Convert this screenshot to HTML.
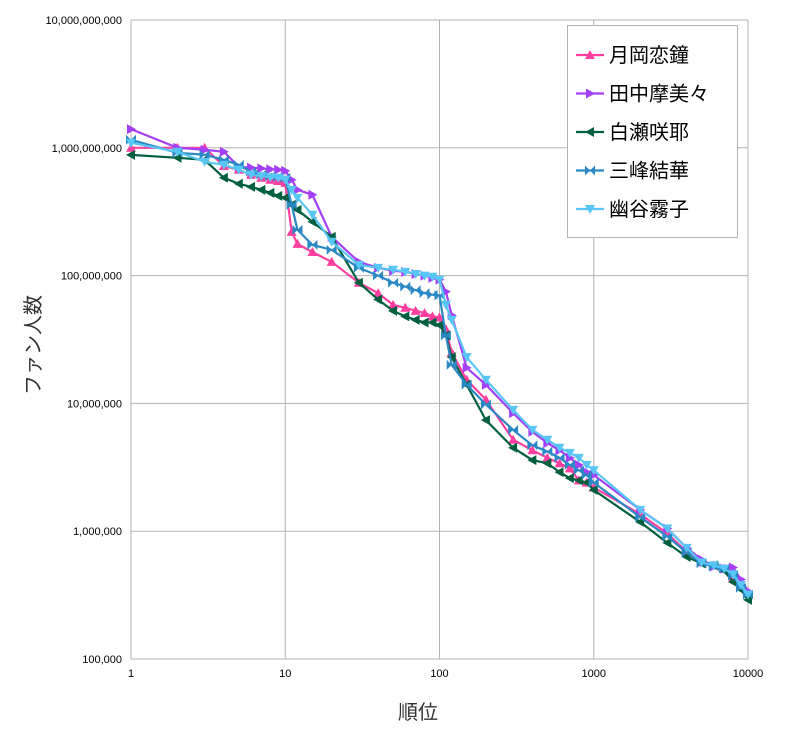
<!DOCTYPE html>
<html><head><meta charset="utf-8"><style>
body{margin:0;background:#fff;font-family:"Liberation Sans","Noto Sans CJK JP",sans-serif}
svg text{font-family:"Liberation Sans","Noto Sans CJK JP",sans-serif}
</style></head><body>
<svg id="chart" width="800" height="738" xmlns="http://www.w3.org/2000/svg">
<g id="grid"></g><g id="series"></g><g id="ticks"></g>
<text x="418" y="719" font-size="20" text-anchor="middle" fill="#333">順位</text>
<text transform="translate(40,345) rotate(-90)" font-size="20" text-anchor="middle" fill="#333">ファン人数</text>
<g id="legend"></g>
</svg>
<script>
const ranks=[1,2,3,4,5,6,7,8,9,10,11,12,15,20,30,40,50,60,70,80,90,100,110,120,150,200,300,400,500,600,700,800,900,1000,2000,3000,4000,5000,6000,7000,8000,9000,10000];
const seriesNames=["月岡恋鐘","田中摩美々","白瀬咲耶","三峰結華","幽谷霧子"];
// values in millions of fans
const tsukioka=[1000,1000,1000,720,673,615,583,562,550,532,220,177,153,128,88,73,59,56,53,51,48,47,38,25,15.3,10.7,5.2,4.3,3.75,3.4,3.1,2.5,2.4,2.2,1.36,0.96,0.69,0.57,0.54,0.51,0.43,0.38,0.33];
const tanaka=[1400,1000,965,931,710,700,690,680,673,660,562,469,429,201,128,115,109,107,103,100,96,93,75,49,19,14,8.4,6.0,4.9,4.3,3.75,3.3,2.9,2.75,1.47,1.05,0.74,0.60,0.53,0.51,0.52,0.42,0.34];
const shirase=[880,835,805,583,523,495,469,444,421,406,358,327,264,201,88,65,53,48,45,43,43,41,34,23,14,7.4,4.5,3.6,3.4,2.9,2.6,2.5,2.4,2.1,1.18,0.81,0.63,0.56,0.54,0.49,0.40,0.35,0.29];
const mitsumine=[1156,914,882,805,736,649,620,600,590,583,358,228,174,159,115,100,88,82,77,73,71,70,34,20,14,9.8,6.2,4.7,4.2,3.75,3.3,3.0,2.75,2.4,1.29,0.91,0.68,0.56,0.53,0.51,0.45,0.36,0.32];
const yuukoku=[1094,931,777,736,673,615,600,590,583,562,469,406,299,184,121,115,111,107,103,100,98,93,59,45,23,15.3,8.9,6.2,5.2,4.5,4.1,3.75,3.3,3.0,1.47,1.05,0.74,0.57,0.54,0.51,0.46,0.38,0.32];
const xTicks=[1,10,100,1000,10000];
const yTicks=["100,000","1,000,000","10,000,000","100,000,000","1,000,000,000","10,000,000,000"];

const NS="http://www.w3.org/2000/svg";
const X0=131,X1=748,Y5=659,Y10=20;
const xs=r=>X0+(X1-X0)*Math.log10(r)/4;
const ys=m=>{const l=Math.log10(m*1e6);return Y5-(Y5-Y10)*(l-5)/5;};
function mk(t,a,p){const e=document.createElementNS(NS,t);for(const k in a)e.setAttribute(k,a[k]);p.appendChild(e);return e;}
const grid=document.getElementById('grid'),tk=document.getElementById('ticks');
for(let i=0;i<yTicks.length;i++){
 const y=Y5-(Y5-Y10)*i/5;
 const l=mk('line',{x1:X0,x2:X1,y1:y,y2:y,stroke:'#b3b3b3','stroke-width':1},grid);
 
 
 const t=mk('text',{x:122,y:y+4,'font-size':11,'text-anchor':'end',fill:'#000'},tk);
 t.textContent=yTicks[i];
 
 
}
xTicks.forEach(v=>{
 const x=xs(v);
 const l=mk('line',{x1:x,x2:x,y1:Y10,y2:Y5,stroke:'#b3b3b3','stroke-width':1},grid);
 
 
 const t=mk('text',{x:x,y:677,'font-size':11,'text-anchor':'middle',fill:'#000'},tk);
 t.textContent=v;
 
 
});
const colors=["#ff3fa0","#a43ff5","#005f3f","#2a88c4","#58c6f5"];
const data=[tsukioka,tanaka,shirase,mitsumine,yuukoku];
function marker(k,x,y,c,p){
 let pts;
 if(k==0)pts=[[x,y-5],[x-5,y+4],[x+5,y+4]];
 else if(k==1)pts=[[x+5,y],[x-4,y-5],[x-4,y+5]];
 else if(k==2)pts=[[x-5,y],[x+4,y-5],[x+4,y+5]];
 else if(k==3)pts=[[x-5,y-5],[x+5,y+5],[x+5,y-5],[x-5,y+5]];
 else pts=[[x,y+5],[x-5,y-4],[x+5,y-4]];
 const e=mk('polygon',{points:pts.map(p=>p.join(',')).join(' '),fill:c},p);
 
 
}
const sg=document.getElementById('series');
data.forEach((arr,k)=>{
 const g=mk('g',{},sg);
 
 
 const pl=mk('polyline',{points:arr.map((v,i)=>xs(ranks[i])+','+ys(v)).join(' '),fill:'none',stroke:colors[k],'stroke-width':2.2},g);
 
 
 arr.forEach((v,i)=>marker(k,xs(ranks[i]),ys(v),colors[k],g));
});
const lg=document.getElementById('legend');
const bx=mk('rect',{x:567.5,y:25.5,width:170,height:212,fill:'#fff',stroke:'#b3b3b3'},lg);


seriesNames.forEach((n,k)=>{
 const y=55+k*38.5;
 const g=mk('g',{},lg);
 
 
 mk('line',{x1:576,x2:604,y1:y,y2:y,stroke:colors[k],'stroke-width':2.2},g);
 marker(k,590,y,colors[k],g);
 const t=mk('text',{x:609,y:y+7,'font-size':20,fill:'#000'},g);
 t.textContent=n;
});
</script>
</body></html>
